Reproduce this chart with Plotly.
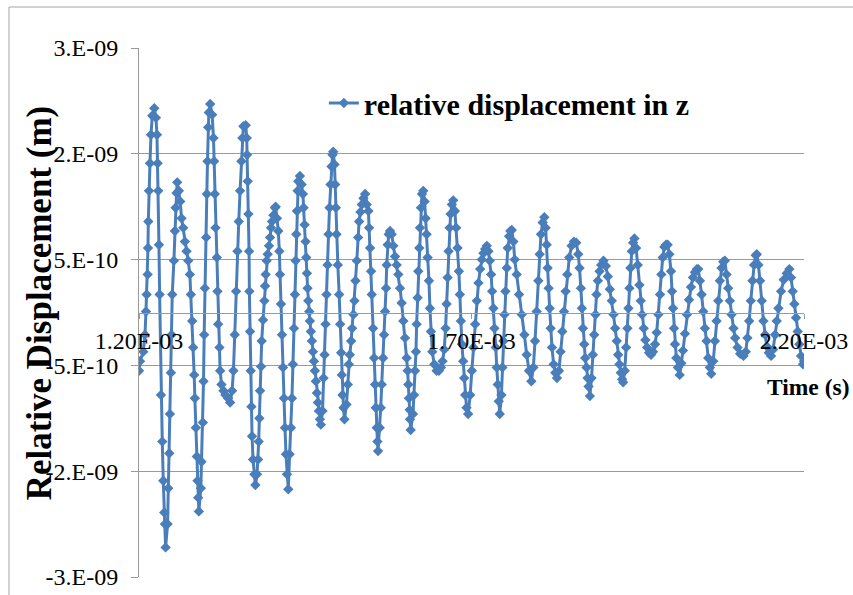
import plotly.graph_objects as go

# Time in microseconds, relative displacement in nanometres
time_us = [
1200,1201.5,1206.5,1209,1210.5,1211.5,1213,1213.5,1214,1215,1216.5,1218,1220,1223,
1225.5,1227,1228,1229,1230,1231,1233,1235,1236.5,1238,1239,1240,
1243,1244,1245.5,1246.5,1248,1249,1250,1252.5,1254,1255,1256.5,1257.5,
1260,1262,1264,1266.5,1269,1271.5,1274,1276.5,1278,1280,1281.5,1283,1284,1285.5,1287,1288,1289,1290,
1293,1294,1296,1297,1298,1299,1301,1302,1303,1304,1305,1307,
1310,1312,1313,1314,1315,1317,1318,1319,1321,1322,1324,1327,1330,1334,1337,
1340,1342,1344,1346,1348,1350,1352,1354,1355.5,1357,1360.5,
1362,1362.5,1363.5,1364.5,1365.5,1366,1367,1368,1369,1370,1371.5,1373.5,1375,
1377.5,1379,1380,1381,1382,1383.5,1384.5,1386.5,1388.5,1389.5,1390.5,1392,1393.5,1395.5,1397,1398.5,1400,1402,1404.5,1405.5,
1407.5,1409.5,1411,1412,1413.5,1415,1416.5,1418,1419.5,1421,1422.5,1424.5,
1426.5,1428.5,1430,1431.5,1433,1434.5,1435.5,1436.5,1437.5,1438.5,1439.5,1442,
1444.5,1446.5,1447.5,1449,1450.5,1451.5,1452.5,1453.5,1454.5,1456,1457,1458.5,1460,1461.5,1463,1464.5,1466,1467.5,1469,1470.5,1472,1473.5,
1476,1477.5,1479,1480.5,1482,1483.5,1485,1486.5,1488,1489.5,1491,1492,
1494,1495,1496,1497,1499,1501,1502.5,1504,1505,1506,1507.5,1509,
1512,1514,1515.5,1517,1519,1520.5,1522.5,1524,1525.5,1527.5,1529.5,1531,1533,1535,1537.5,1540,
1542.5,1545,1546,1547.5,1549,1550,1552,1553.5,1555,1556,1557.5,1558.5,1559.5,
1562,1563.5,1565,1567,1568.5,1570,1571.5,1572.5,1574,1575.5,1577.5,
1580,1582.5,1585,1587.5,1590,1592.5,1595,1597.5,1600,1602.5,1604,1605,1606,1607,1607.5,1608.5,
1612,1613.5,1615,1616.5,1617.5,1619,1620,1621.5,1622.5,1624,1625.5,1627.5,
1629.5,1631,1632.5,1634,1636,1637.5,1639,1641,1644,1647.5,1651,1654,
1656.5,1659,1661,1662.5,1664,1665.5,1667,1668.5,1670.5,1672.5,
1675,1677,1679,1681,1682.5,1684,1685.5,1687.5,1689,1690.5,1692.5,1695,
1698,1700.5,1703,1705.5,1708,1710.5,1713,1715.5,1718,1720.5,1723,
1725.5,1727.5,1729.5,1731,1733,1734.5,1736.5,1738,1739.5,1741,1742.5,
1745,1746.5,1748,1749.5,1751,1753,1754.5,1756.5,1758.5,1760.5,
1763,1765,1768,1771.5,1775.5,1779.5,1783,1786.5,1790,
1793,1795.5,1798,1800.5,1802.5,1804.5,1807,1809.5,
1811.5,1813,1814.5,1816,1817.5,1819,1821,1823.5,1826,1828.5,
1831.5,1834,1836.5,1839,1841.5,1844,1847,1850.5,1854,1857.5,
1860.5,1862.5,1864.5,1866,1867.5,1869.5,1871,1873,1874.5,1876,1878,
1880.5,1882.5,1884.5,1886.5,1888,1890,1892.5,1895,1898.5,
1902,1905,1908,1911,1913.5,1916,1918.5,1920.5,1922.5,1924.5,1926.5,1928,
1930.5,1932.5,1934.5,1936,1937.5,1939,1941,1943,1945,
1947.5,1950,1952.5,1954.5,1956.5,1959,1961.5,1964,1967,1970,
1973,1976,1978.5,1981,1983.5,1985.5,1987.5,1990,1992.5,1995,
1997.5,2000,2001.5,2003,2004.5,2006,2008,2010.5,2013,
2015.5,2018,2021,2024,2027,2030,2033,2036,2039,2041,
2043.5,2046,2048.5,2051,2053.5,2056,2058.5,2060.5,
2063.5,2066,2068.5,2071,2073.5,2076,2078.5,2081,
2083.5,2086,2088.5,2091,2094,2096.5,2100,2104,2109,
2112.5,2115,2117.5,2120,2122.5,2125,2127.5,2129,
2131.5,2134,2136.5,2139,2141.5,2144,2147,2150.5,
2153.5,2156.5,2159,2161.5,2165.5,2169.5,2174,2178,
2180.5,2183,2185.5,2188,2190.5,2193,2195.5,2198.5,2200,
]

disp_nm = [
-0.55,-0.46,-0.37,-0.21,0.01,0.17,0.36,0.61,0.86,1.15,1.41,1.68,1.86,1.93,
1.84,1.68,1.41,1.15,0.64,0.17,-0.78,-1.22,-1.59,-1.89,-2.00,-2.22,
-2.00,-1.66,-1.33,-0.96,-0.57,-0.21,0.17,0.49,0.77,0.99,1.13,1.23,
1.15,1.05,0.89,0.80,0.67,0.58,0.49,0.36,0.17,-0.08,-0.33,-0.59,-0.81,-1.09,-1.36,-1.59,-1.75,-1.88,
-1.66,-1.41,-1.04,-0.65,-0.21,0.23,0.71,1.12,1.43,1.75,1.89,1.97,
1.87,1.65,1.43,1.12,0.80,0.52,0.20,-0.11,-0.33,-0.55,-0.68,-0.74,-0.78,-0.81,-0.85,
-0.74,-0.55,-0.21,0.20,0.58,0.86,1.15,1.43,1.65,1.76,1.77,
1.65,1.49,1.24,0.93,0.58,0.20,-0.18,-0.55,-0.89,-1.17,-1.39,-1.53,-1.63,
-1.53,-1.39,-1.22,-1.00,-0.74,-0.51,-0.27,-0.07,0.11,0.25,0.36,0.49,0.55,0.63,0.71,0.80,0.86,0.92,0.99,1.00,
0.89,0.77,0.58,0.36,0.08,-0.21,-0.52,-0.81,-1.09,-1.34,-1.53,-1.67,
-1.34,-1.09,-0.81,-0.49,-0.15,0.17,0.49,0.74,0.96,1.15,1.24,1.29,
1.21,1.12,0.99,0.83,0.67,0.52,0.37,0.23,0.11,0.01,-0.08,-0.18,-0.27,-0.37,-0.46,-0.55,-0.65,-0.76,-0.85,-0.93,-1.01,-1.06,
-0.93,-0.62,-0.40,-0.11,0.17,0.45,0.74,0.99,1.21,1.38,1.49,1.52,
1.40,1.21,0.99,0.74,0.45,0.17,-0.11,-0.38,-0.59,-0.78,-0.90,-1.01,
-0.87,-0.68,-0.49,-0.40,-0.27,-0.15,-0.02,0.11,0.30,0.49,0.71,0.86,0.95,1.02,1.08,1.12,
1.02,0.96,0.80,0.61,0.39,0.17,-0.15,-0.43,-0.68,-0.90,-1.09,-1.22,-1.31,
-1.09,-0.90,-0.68,-0.43,-0.21,0.01,0.23,0.45,0.64,0.74,0.77,
0.74,0.63,0.53,0.45,0.36,0.23,0.09,-0.08,-0.24,-0.43,-0.55,-0.68,-0.81,-0.92,-1.01,-1.11,
-0.96,-0.78,-0.55,-0.37,-0.11,0.14,0.39,0.61,0.80,0.99,1.12,1.15,
1.05,0.89,0.74,0.52,0.30,0.04,-0.18,-0.37,-0.49,-0.55,-0.55,-0.52,
-0.46,-0.35,-0.15,0.08,0.33,0.58,0.80,0.93,1.02,1.06,
0.96,0.80,0.61,0.39,0.17,-0.08,-0.30,-0.46,-0.62,-0.78,-0.90,-0.96,
-0.78,-0.55,-0.33,-0.11,0.11,0.28,0.41,0.50,0.56,0.60,0.63,
0.58,0.49,0.36,0.20,0.04,-0.15,-0.33,-0.52,-0.68,-0.84,-0.96,
-0.78,-0.52,-0.27,-0.02,0.20,0.42,0.61,0.72,0.77,0.78,
0.67,0.50,0.36,0.17,-0.02,-0.21,-0.40,-0.55,-0.65,
-0.52,-0.27,0.01,0.30,0.55,0.74,0.85,0.90,
0.80,0.64,0.42,0.23,0.04,-0.15,-0.33,-0.49,-0.57,-0.62,
-0.55,-0.37,-0.18,0.01,0.20,0.36,0.52,0.63,0.67,0.66,
0.55,0.42,0.23,0.04,-0.15,-0.30,-0.43,-0.52,-0.62,-0.70,-0.79,
-0.62,-0.40,-0.21,-0.02,0.17,0.30,0.39,0.45,0.49,
0.44,0.34,0.22,0.11,-0.02,-0.15,-0.27,-0.40,-0.49,-0.57,-0.63,-0.66,
-0.55,-0.33,-0.15,0.04,0.23,0.42,0.58,0.66,0.70,
0.61,0.45,0.26,0.11,-0.02,-0.15,-0.26,-0.33,-0.38,-0.40,
-0.37,-0.30,-0.19,-0.02,0.17,0.36,0.52,0.62,0.64,0.64,
0.55,0.39,0.20,0.04,-0.15,-0.30,-0.43,-0.52,-0.59,
-0.48,-0.36,-0.20,-0.02,0.12,0.24,0.33,0.38,0.41,0.41,
0.30,0.17,0.01,-0.15,-0.27,-0.43,-0.52,-0.58,
-0.46,-0.27,-0.08,0.11,0.30,0.42,0.48,0.49,
0.36,0.23,0.11,-0.02,-0.15,-0.24,-0.33,-0.39,-0.41,
-0.37,-0.24,-0.08,0.11,0.30,0.45,0.54,0.55,
0.45,0.30,0.11,-0.08,-0.21,-0.32,-0.38,-0.41,
-0.35,-0.21,-0.08,0.04,0.20,0.31,0.37,0.41,
0.33,0.20,0.08,-0.05,-0.18,-0.30,-0.41,-0.49,-0.46,
]

y_tick_vals_nm = [2.5, 1.5, 0.5, -0.5, -1.5, -2.5]
y_tick_text = ["3.E-09", "2.E-09", "5.E-10", "-5.E-10", "-2.E-09", "-3.E-09"]
x_tick_vals_ms = [1.2, 1.7, 2.2]
x_tick_text = ["1.20E-03", "1.70E-03", "2.20E-03"]

t_s = [v * 1e-6 for v in time_us]
d_m = [v * 1e-9 for v in disp_nm]

SERIF = "Liberation Serif, Times New Roman, serif"
BLUE = "#4A7EBB"
GRID = "#9a9a9a"

fig = go.Figure()
fig.add_trace(go.Scatter(
    x=t_s, y=d_m, mode="lines+markers",
    name="relative displacement in z",
    line=dict(color=BLUE, width=3),
    marker=dict(symbol="diamond", size=8, color=BLUE),
))

fig.update_layout(
    width=853, height=595,
    margin=dict(l=139, r=49, t=48, b=18),
    paper_bgcolor="white", plot_bgcolor="white",
    font=dict(family=SERIF, color="black"),
    showlegend=True,
    legend=dict(
        x=0.278, y=0.896, xanchor="left", yanchor="middle",
        bgcolor="rgba(0,0,0,0)",
        font=dict(family=SERIF, size=30, color="black", weight="bold"),
    ),
    xaxis=dict(
        range=[1.2e-3, 2.2e-3],
        tickvals=[v * 1e-3 for v in x_tick_vals_ms], ticktext=x_tick_text,
        anchor="free", position=0.5, automargin=False,
        showline=True, linecolor=GRID, linewidth=1,
        ticks="outside", ticklen=5, tickcolor=GRID,
        ticklabelstandoff=2,
        showgrid=False, zeroline=False,
        tickfont=dict(family=SERIF, size=24, color="black"),
    ),
    yaxis=dict(
        range=[-2.5e-9, 2.5e-9], automargin=False,
        tickvals=[v * 1e-9 for v in y_tick_vals_nm], ticktext=y_tick_text,
        showline=True, linecolor=GRID, linewidth=1,
        ticks="outside", ticklen=7, tickcolor=GRID,
        ticklabelstandoff=8,
        showgrid=True, gridcolor=GRID, gridwidth=1,
        zeroline=False,
        tickfont=dict(family=SERIF, size=24, color="black"),
    ),
    annotations=[
        dict(text="<b>Relative Displacement (m)</b>", textangle=-90,
             xref="paper", yref="paper", x=-0.149, y=0.519,
             xanchor="center", yanchor="middle", showarrow=False,
             font=dict(family=SERIF, size=35, color="black")),
        dict(text="<b>Time (s)</b>",
             xref="paper", yref="paper", x=1.006, y=0.36,
             xanchor="center", yanchor="middle", showarrow=False,
             font=dict(family=SERIF, size=23.5, color="black")),
    ],
    shapes=[
        dict(type="rect", xref="paper", yref="paper",
             x0=-0.1955, x1=1.2, y0=-0.2, y1=1.0775,
             line=dict(color="#a6a6a6", width=1), fillcolor="rgba(0,0,0,0)",
             layer="below"),
    ],
)

fig.write_html("out.html",
               config={"displayModeBar": False},
               post_script="document.body.style.margin='0';document.body.style.overflow='hidden';")
